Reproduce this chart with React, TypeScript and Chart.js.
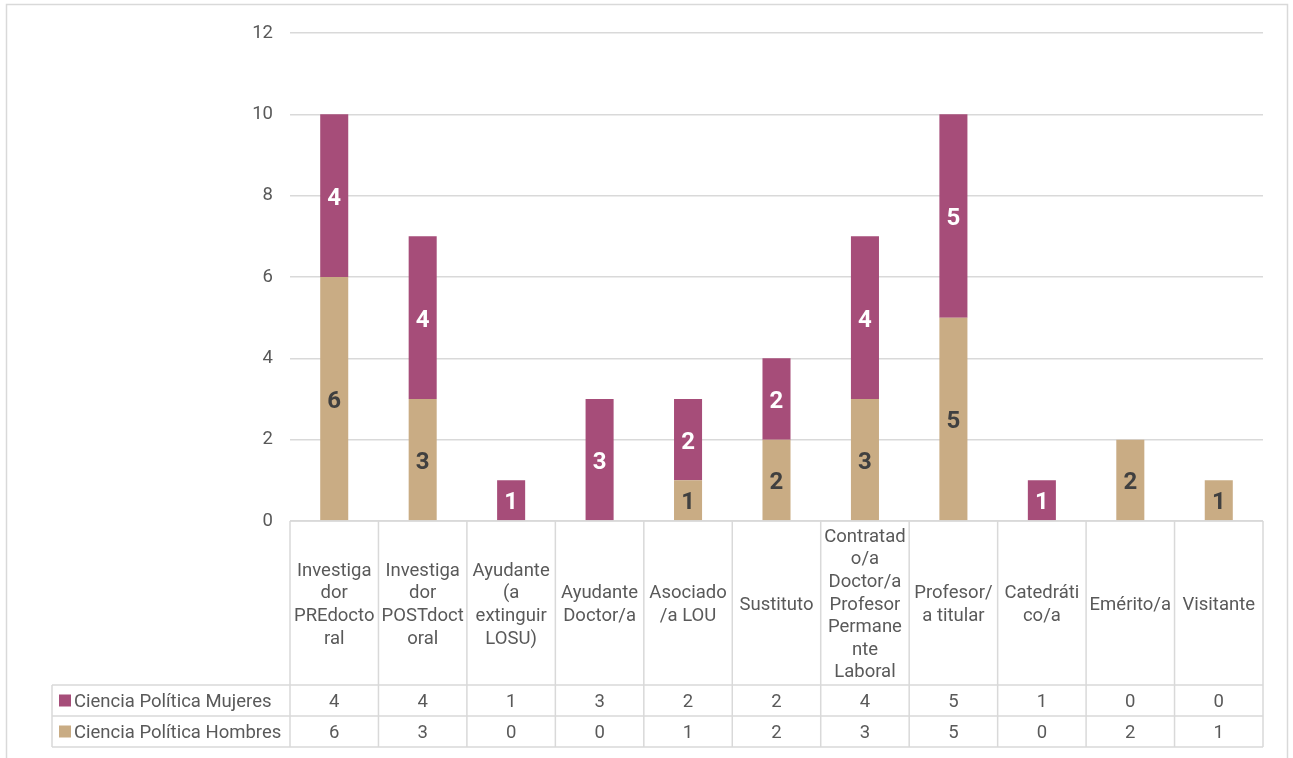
import React, { useEffect, useRef } from "react";
import { Chart, registerables } from "chart.js";

Chart.register(...registerables);

const categories: string[][] = [
  ["Investiga", "dor", "PREdocto", "ral"],
  ["Investiga", "dor", "POSTdoct", "oral"],
  ["Ayudante", "(a", "extinguir", "LOSU)"],
  ["Ayudante", "Doctor/a"],
  ["Asociado", "/a LOU"],
  ["Sustituto"],
  ["Contratad", "o/a", "Doctor/a", "Profesor", "Permane", "nte", "Laboral"],
  ["Profesor/", "a titular"],
  ["Catedráti", "co/a"],
  ["Emérito/a"],
  ["Visitante"],
];

const mujeresLabel = "Ciencia Política Mujeres";
const hombresLabel = "Ciencia Política Hombres";
const mujeres: number[] = [4, 4, 1, 3, 2, 2, 4, 5, 1, 0, 0];
const hombres: number[] = [6, 3, 0, 0, 1, 2, 3, 5, 0, 2, 1];
const yTicks: number[] = [0, 2, 4, 6, 8, 10, 12];

const MUJ_COLOR = "#A64D79";
const HOM_COLOR = "#C9AC84";
const TEXT = "#595959";
const LINE = "#D9D9D9";
const FONT = "Roboto, 'Noto Sans', sans-serif";

export default function App() {
  const ref = useRef<HTMLCanvasElement | null>(null);

  useEffect(() => {
    document.body.style.margin = "0";
    const canvas = ref.current!;

    const tablePlugin = {
      id: "tablePlugin",
      beforeDraw(chart: any) {
        const ctx = chart.ctx;
        ctx.save();
        ctx.strokeStyle = LINE;
        ctx.lineWidth = 1.5;
        ctx.strokeRect(6.5, 4.5, 1281, 820);
        ctx.restore();
      },
      afterDatasetsDraw(chart: any) {
        const ctx = chart.ctx;
        ctx.save();
        ctx.textAlign = "center";
        ctx.textBaseline = "middle";
        ctx.font = `bold 24px ${FONT}`;
        chart.data.datasets.forEach((ds: any, di: number) => {
          const meta = chart.getDatasetMeta(di);
          meta.data.forEach((bar: any, i: number) => {
            const v = ds.data[i];
            if (!v) return;
            ctx.fillStyle = di === 1 ? "#FFFFFF" : "#404040";
            ctx.fillText(String(v), bar.x, (bar.y + bar.base) / 2 + 3);
          });
        });
        ctx.restore();
      },
      afterDraw(chart: any) {
        const ctx = chart.ctx;
        const x = chart.scales.x;
        const area = chart.chartArea;
        const n = categories.length;
        const left = area.left;
        const right = area.right;
        const catW = (right - left) / n;
        const top = area.bottom;
        const headBottom = top + 164;
        const row1 = headBottom + 31;
        const row2 = row1 + 31;
        const legLeft = 52;

        ctx.save();
        ctx.strokeStyle = LINE;
        ctx.lineWidth = 1.5;
        ctx.beginPath();
        for (let i = 0; i <= n; i++) {
          const bx = left + i * catW;
          ctx.moveTo(bx, top);
          ctx.lineTo(bx, row2);
        }
        ctx.moveTo(legLeft, headBottom);
        ctx.lineTo(legLeft, row2);
        ctx.moveTo(left, top);
        ctx.lineTo(right, top);
        [headBottom, row1, row2].forEach((yy) => {
          ctx.moveTo(legLeft, yy);
          ctx.lineTo(right, yy);
        });
        ctx.stroke();

        ctx.fillStyle = TEXT;
        ctx.font = `18.5px ${FONT}`;
        ctx.textAlign = "center";
        ctx.textBaseline = "middle";
        const lh = 22.6;
        const headMid = (top + headBottom) / 2;
        categories.forEach((lines, i) => {
          const cx = x.getPixelForValue(i);
          const start = headMid - ((lines.length - 1) * lh) / 2;
          lines.forEach((t, k) => ctx.fillText(t, cx, start + k * lh + 2));
          ctx.fillText(String(mujeres[i]), cx, (headBottom + row1) / 2 + 2);
          ctx.fillText(String(hombres[i]), cx, (row1 + row2) / 2 + 2);
        });

        const rows = [
          { label: mujeresLabel, color: MUJ_COLOR, y: (headBottom + row1) / 2 },
          { label: hombresLabel, color: HOM_COLOR, y: (row1 + row2) / 2 },
        ];
        rows.forEach((r) => {
          ctx.fillStyle = r.color;
          ctx.fillRect(59, r.y - 6, 12, 12);
          ctx.fillStyle = TEXT;
          ctx.textAlign = "left";
          ctx.fillText(r.label, 74, r.y + 2);
        });
        ctx.restore();
      },
    };

    const chart = new Chart(canvas, {
      type: "bar",
      data: {
        labels: categories,
        datasets: [
          { label: hombresLabel, data: hombres, backgroundColor: HOM_COLOR, barPercentage: 0.317, categoryPercentage: 1 },
          { label: mujeresLabel, data: mujeres, backgroundColor: MUJ_COLOR, barPercentage: 0.317, categoryPercentage: 1 },
        ],
      },
      options: {
        animation: false,
        responsive: false,
        devicePixelRatio: 1,
        layout: { padding: { left: 0, right: 30, top: 33, bottom: 237 } },
        plugins: { legend: { display: false }, tooltip: { enabled: false } },
        scales: {
          x: { stacked: true, display: false },
          y: {
            stacked: true,
            min: yTicks[0],
            max: yTicks[yTicks.length - 1],
            afterBuildTicks(scale: any) {
              scale.ticks = yTicks.map((v) => ({ value: v }));
            },
            afterFit(scale: any) {
              scale.width = 290;
            },
            grid: { color: LINE, lineWidth: 1.5, drawTicks: false },
            border: { display: false },
            ticks: { color: TEXT, font: { size: 18.5, family: FONT }, padding: 17 },
          },
        },
      },
      plugins: [tablePlugin],
    });
    return () => chart.destroy();
  }, []);

  return (
    <div style={{ width: 1293, height: 758 }}>
      <canvas ref={ref} width={1293} height={758} />
    </div>
  );
}
